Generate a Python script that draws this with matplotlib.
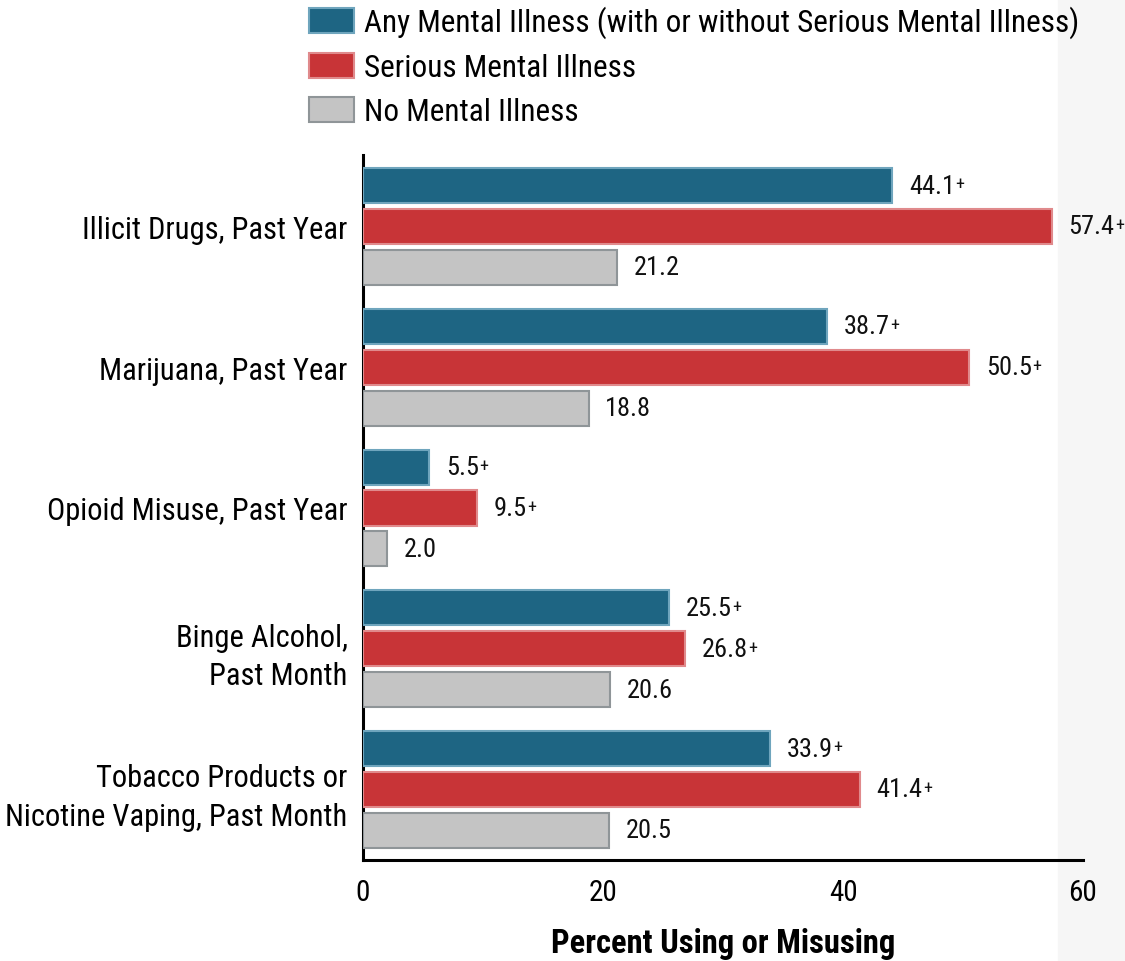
import matplotlib
matplotlib.use("Agg")
import matplotlib.pyplot as plt
from matplotlib.patches import Patch, Rectangle
import numpy as np

categories = ["Illicit Drugs, Past Year", "Marijuana, Past Year", "Opioid Misuse, Past Year",
              "Binge Alcohol,\nPast Month", "Tobacco Products or\nNicotine Vaping, Past Month"]
series_names = ["Any Mental Illness (with or without Serious Mental Illness)",
                "Serious Mental Illness", "No Mental Illness"]
any_mi = [44.1, 38.7, 5.5, 25.5, 33.9]
smi = [57.4, 50.5, 9.5, 26.8, 41.4]
no_mi = [21.2, 18.8, 2.0, 20.6, 20.5]
sig_any = [True, True, True, True, True]
sig_smi = [True, True, True, True, True]
sig_no = [False, False, False, False, False]
xticks = [0, 20, 40, 60]
xlabel = "Percent Using or Misusing"

plt.rcParams['font.family'] = ['Roboto Condensed', 'Archivo Narrow', 'Liberation Sans Narrow',
                               'Liberation Sans', 'DejaVu Sans']

fig = plt.figure(figsize=(11.25, 9.62), dpi=100)
fig.add_artist(Rectangle((1058/1125, 0), 1 - 1058/1125, 1, transform=fig.transFigure,
                         color="#f6f6f6", zorder=-5))
ax = fig.add_axes([363/1125, 1 - 861/962, 720/1125, 705/962])
ax.set_facecolor("none")

colors = ["#1e6583", "#c83437", "#c4c4c4"]
edges = ["#6fa5bd", "#e08a8c", "#8f9598"]
pitch = 0.291
h = 0.249
y = np.arange(len(categories))
data = [any_mi, smi, no_mi]
sigs = [sig_any, sig_smi, sig_no]
for i, (vals, sg) in enumerate(zip(data, sigs)):
    pos = y + (i - 1) * pitch
    ax.barh(pos, vals, height=h, color=colors[i], edgecolor=edges[i], linewidth=1.5, zorder=3)
    for yy, v, s in zip(pos, vals, sg):
        t = ax.annotate(f"{v:.1f}", xy=(v, yy), xytext=(12, 0), textcoords="offset points",
                        ha="left", va="center", fontsize=19, color="#111111")
        if s:
            ax.annotate("+", xy=(1, 0.92), xycoords=t, xytext=(0.3, 0), textcoords="offset points",
                        ha="left", va="top", fontsize=13, color="#111111")

ax.set_xlim(0, 60)
ax.set_ylim(4.501, -0.508)
ax.set_xticks(xticks)
ax.set_xticklabels([str(v) for v in xticks], fontsize=21)
ax.set_yticks(y)
ax.set_yticklabels(categories, fontsize=22, multialignment="right", linespacing=1.4)
ax.tick_params(axis="both", length=0)
ax.tick_params(axis="x", pad=13)
ax.tick_params(axis="y", pad=11)
for sp in ["top", "right"]:
    ax.spines[sp].set_visible(False)
ax.spines["left"].set_linewidth(2.2)
ax.spines["bottom"].set_linewidth(2.2)
ax.set_xlabel(xlabel, fontsize=23.5, fontweight="bold", labelpad=15)

handles = [Patch(facecolor=colors[i], edgecolor=edges[i], linewidth=1.5) for i in range(3)]
fig.legend(handles, series_names, loc="upper left", bbox_to_anchor=(296/1125, 1.006),
           frameon=False, fontsize=22.5, handlelength=1.44, handleheight=0.86,
           labelspacing=0.47, handletextpad=0.35, borderaxespad=0)

fig.savefig("out.png", dpi=100)
